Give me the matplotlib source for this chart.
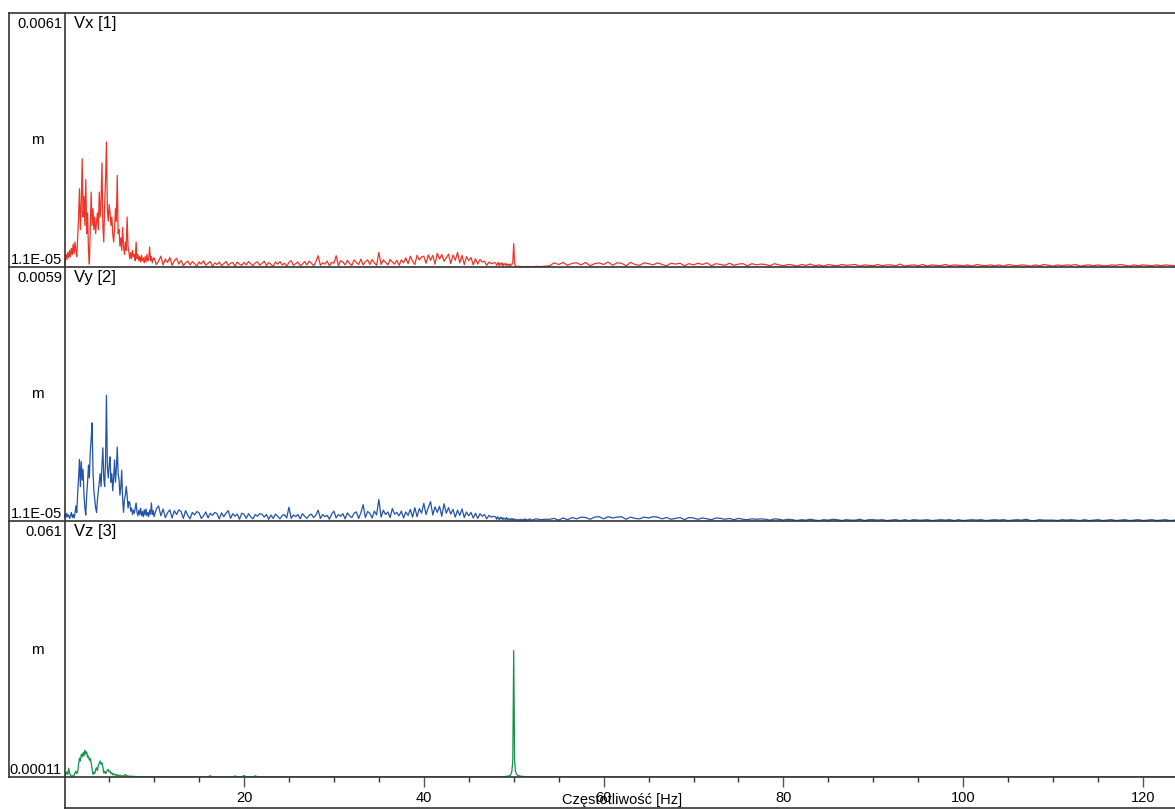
import numpy as np
import matplotlib.pyplot as plt
from matplotlib.lines import Line2D

plt.rcParams['font.family'] = ['Liberation Sans', 'DejaVu Sans']

# czestotliwosci [Hz] - siatka w czterech odcinkach
f_low = np.arange(0, 100) / 10.0      # 0 - 9.9 Hz co 0.1
f_mid = np.arange(40, 192) / 4.0      # 10 - 47.75 Hz co 0.25
f_peak = np.arange(480, 520) / 10.0   # 48 - 51.9 Hz co 0.1
f_high = np.arange(104, 248) / 2.0    # 52 - 123.5 Hz co 0.5

# amplitudy w jednostkach 1e-4 m
vx_low = [0.5, 1.5, 3.0, 1.8, 3.5, 2.2, 4.0, 2.5, 4.5, 3.0,
          5.5, 3.2, 6.0, 4.0, 2.5, 7.0, 12.0, 18.8, 9.0, 15.0,
          26.0, 12.0, 17.0, 10.0, 21.0, 8.0, 13.0, 4.0, 0.7, 9.0,
          18.0, 10.0, 14.0, 9.0, 12.0, 8.0, 11.0, 13.0, 9.0, 18.0,
          12.0, 16.0, 25.0, 10.0, 6.0, 15.0, 21.0, 30.0, 14.0, 11.0,
          15.0, 13.0, 10.0, 12.0, 8.0, 6.0, 9.0, 14.0, 11.0, 22.0,
          8.0, 9.0, 5.0, 7.0, 4.0, 9.5, 5.0, 3.0, 6.0, 4.0,
          12.0, 5.0, 3.5, 2.0, 3.5, 2.0, 4.0, 2.5, 3.0, 1.5,
          6.0, 2.0, 3.0, 1.5, 2.5, 1.2, 2.8, 1.5, 2.2, 1.0,
          2.5, 1.2, 3.0, 1.5, 2.0, 4.8, 1.5, 2.5, 1.0, 2.0]
vx_mid = [2.2, 0.6, 1.4, 2.6, 0.5, 1.9, 1.1, 2.3,
          0.4, 1.5, 2.1, 0.7, 1.6, 0.3, 1.0, 1.4,
          0.5, 1.3, 0.8, 0.2, 1.2, 0.7, 1.5, 0.4,
          0.9, 1.3, 0.2, 1.0, 0.6, 1.2, 0.3, 0.8,
          1.3, 0.4, 0.9, 1.1, 0.2, 1.2, 0.7, 0.4,
          1.1, 0.5, 1.3, 0.8, 0.3, 1.0, 1.2, 0.4,
          0.9, 1.4, 0.3, 1.1, 0.6, 0.2, 1.2, 0.7,
          1.3, 0.5, 0.9, 0.2, 1.1, 1.5, 0.4, 0.8,
          1.2, 0.3, 0.7, 1.3, 0.5, 1.4, 0.9, 0.3,
          1.3, 2.7, 0.4, 1.0, 0.7, 1.4, 0.3, 1.1,
          0.9, 2.7, 0.3, 1.5, 1.2, 0.5, 1.6, 0.8,
          0.4, 1.7, 1.1, 0.6, 1.9, 0.5, 1.3, 1.7,
          0.6, 1.8, 1.0, 0.4, 3.5, 0.6, 1.7, 1.1,
          0.5, 1.8, 1.2, 0.7, 1.6, 0.4, 1.7, 1.0,
          2.2, 0.8, 2.6, 1.4, 0.6, 2.8, 1.7, 2.4,
          2.6, 0.9, 2.9, 1.6, 2.8, 0.7, 3.3, 1.9,
          3.0, 1.4, 2.2, 3.1, 0.8, 2.9, 1.6, 3.5,
          1.0, 2.8, 0.6, 2.5, 1.5, 2.3, 0.5, 2.0,
          0.7, 1.8, 1.2, 1.4, 0.4, 1.2, 0.8, 1.0]
vx_peak = [1.0, 0.4, 0.7, 1.1, 0.3, 0.9, 0.6, 1.0, 0.2, 0.8,
           0.5, 0.9, 0.3, 0.7, 0.6, 0.2, 0.7, 0.4, 0.6, 1.2,
           5.6, 1.0, 0.2, 0.1, 0.2, 0.05, 0.2, 0.05, 0.15, 0.05,
           0.1, 0.05, 0.1, 0.05, 0.15, 0.05, 0.1, 0.05, 0.1, 0.05]
vx_high = [0.05, 0.15, 0.1, 0.2, 0.3, 1.0, 0.6, 1.1,
           0.4, 0.9, 1.0, 0.5, 1.1, 0.3, 0.8, 1.0,
           0.6, 1.2, 0.4, 1.0, 0.9, 0.3, 1.1, 0.6,
           0.4, 1.0, 0.8, 0.5, 1.0, 0.6, 0.3, 0.9,
           0.7, 0.9, 0.3, 0.8, 0.5, 0.9, 0.6, 1.0,
           0.3, 0.8, 0.6, 0.4, 0.9, 0.4, 0.7, 0.8,
           0.3, 0.8, 0.5, 0.7, 0.6, 0.3, 0.8, 0.5,
           0.3, 0.6, 0.5, 0.2, 0.6, 0.4, 0.7, 0.3,
           0.5, 0.2, 0.6, 0.4, 0.3, 0.6, 0.4, 0.5,
           0.6, 0.2, 0.5, 0.4, 0.3, 0.6, 0.3, 0.5,
           0.5, 0.3, 0.7, 0.2, 0.4, 0.5, 0.3, 0.6,
           0.2, 0.5, 0.4, 0.3, 0.6, 0.3, 0.5, 0.4,
           0.3, 0.5, 0.2, 0.6, 0.4, 0.3, 0.5, 0.3,
           0.5, 0.2, 0.6, 0.4, 0.3, 0.5, 0.4, 0.2,
           0.5, 0.3, 0.6, 0.4, 0.2, 0.5, 0.3, 0.5,
           0.4, 0.6, 0.2, 0.4, 0.5, 0.3, 0.5, 0.3,
           0.3, 0.5, 0.4, 0.6, 0.4, 0.2, 0.5, 0.3,
           0.5, 0.4, 0.3, 0.5, 0.3, 0.5, 0.4, 0.3]

vy_low = [1.0, 1.6, 0.8, 1.8, 1.0, 1.4, 0.6, 1.2, 2.0, 0.8,
          1.5, 0.7, 1.8, 3.5, 2.0, 6.5, 10.0, 14.3, 8.0, 13.8,
          9.5, 12.0, 6.0, 3.0, 1.4, 6.0, 9.0, 13.0, 10.0, 16.0,
          19.0, 22.8, 12.0, 7.0, 5.0, 3.0, 2.0, 5.0, 7.0, 9.0,
          11.0, 8.0, 13.0, 17.0, 10.0, 8.0, 14.0, 29.2, 12.6, 10.0,
          13.0, 14.9, 9.0, 11.0, 7.0, 10.0, 14.2, 9.0, 12.0, 17.2,
          11.0, 9.5, 6.0, 8.0, 11.8, 5.0, 2.0, 5.0, 6.0, 8.0,
          6.0, 3.0, 4.5, 4.2, 2.3, 3.0, 1.5, 2.5, 1.8, 3.0,
          4.2, 2.0, 1.2, 2.5, 1.5, 3.0, 1.2, 2.2, 1.0, 2.6,
          1.4, 2.8, 1.2, 2.0, 1.0, 2.5, 1.6, 4.2, 1.5, 2.4]
vy_mid = [1.0, 2.8, 3.5, 1.2, 2.8, 0.8, 1.9, 2.6,
          0.7, 2.4, 1.5, 2.6, 2.2, 0.6, 2.4, 1.3,
          0.5, 2.0, 1.4, 2.2, 1.9, 0.6, 1.2, 2.1,
          0.7, 1.8, 1.3, 2.0, 1.7, 0.5, 1.9, 1.0,
          1.8, 2.4, 0.6, 1.7, 1.1, 1.6, 0.4, 1.8,
          1.6, 0.6, 1.7, 1.0, 0.5, 1.5, 1.1, 1.7,
          1.6, 0.9, 1.5, 0.4, 1.4, 0.6, 1.6, 1.1,
          0.5, 1.3, 1.5, 0.7, 3.2, 0.6, 1.4, 1.0,
          1.5, 0.5, 1.7, 1.1, 0.6, 1.3, 1.6, 0.8,
          1.4, 2.5, 0.6, 1.5, 1.0, 1.3, 0.4, 1.6,
          2.3, 0.7, 1.5, 1.1, 1.7, 0.5, 1.9, 1.2,
          0.8, 1.8, 2.1, 0.6, 1.9, 3.8, 0.8, 2.2,
          1.8, 0.7, 2.3, 1.4, 5.0, 0.9, 2.5, 1.5,
          2.1, 0.8, 2.9, 1.6, 2.0, 1.2, 2.3, 0.7,
          2.1, 1.3, 2.7, 0.9, 3.1, 1.0, 2.9, 1.8,
          4.1, 1.5, 3.1, 4.5, 1.4, 3.3, 2.0, 3.4,
          1.1, 4.0, 1.8, 3.1, 1.6, 2.7, 0.9, 2.5,
          1.3, 2.8, 0.8, 2.1, 1.2, 2.0, 0.7, 1.8,
          0.6, 1.7, 1.1, 1.5, 0.5, 1.3, 0.9, 1.1]
vy_peak = [0.9, 0.4, 1.0, 0.6, 0.3, 0.9, 0.5, 0.8, 0.3, 0.7,
           0.6, 0.2, 0.8, 0.4, 0.6, 0.3, 0.5, 0.2, 0.6, 0.3,
           0.5, 0.2, 0.4, 0.3, 0.1, 0.4, 0.2, 0.3, 0.4, 0.1,
           0.3, 0.4, 0.2, 0.5, 0.3, 0.1, 0.4, 0.2, 0.5, 0.3]
vy_high = [0.2, 0.5, 0.3, 0.4, 0.4, 0.6, 0.2, 0.7,
           0.3, 0.8, 0.5, 0.9, 0.8, 0.4, 0.9, 1.0,
           0.5, 1.0, 0.7, 0.9, 1.0, 0.4, 0.9, 0.6,
           0.5, 0.9, 0.7, 1.0, 0.9, 0.5, 0.8, 0.4,
           0.6, 0.8, 0.3, 0.8, 0.7, 0.4, 0.7, 0.5,
           0.3, 0.7, 0.6, 0.4, 0.6, 0.3, 0.6, 0.4,
           0.3, 0.5, 0.4, 0.5, 0.4, 0.2, 0.5, 0.4,
           0.2, 0.4, 0.3, 0.1, 0.3, 0.2, 0.4, 0.2,
           0.1, 0.3, 0.2, 0.4, 0.3, 0.1, 0.3, 0.2,
           0.2, 0.4, 0.1, 0.3, 0.3, 0.2, 0.3, 0.1,
           0.2, 0.3, 0.1, 0.3, 0.1, 0.3, 0.2, 0.2,
           0.3, 0.1, 0.2, 0.3, 0.2, 0.3, 0.1, 0.3,
           0.1, 0.2, 0.3, 0.2, 0.3, 0.1, 0.2, 0.3,
           0.2, 0.3, 0.1, 0.2, 0.3, 0.2, 0.4, 0.1,
           0.1, 0.3, 0.2, 0.2, 0.2, 0.1, 0.3, 0.2,
           0.3, 0.2, 0.1, 0.3, 0.1, 0.2, 0.3, 0.1,
           0.2, 0.3, 0.1, 0.2, 0.3, 0.1, 0.2, 0.3,
           0.1, 0.2, 0.3, 0.1, 0.2, 0.3, 0.1, 0.2]

vz_low = [1, 3, 8, 12, 6, 21, 10, 4, 2, 3,
          1, 5, 10, 14, 8, 12, 30, 45, 38, 54,
          48, 58, 50, 64, 55, 60, 47, 50, 40, 44,
          34, 20, 6, 12, 8, 18, 22, 15, 28, 33,
          38, 30, 34, 24, 10, 14, 8, 12, 16, 18,
          12, 14, 8, 10, 5, 8, 6, 4, 6, 3,
          5, 3, 4, 2, 3, 2, 3, 4, 6, 4,
          3, 2, 2, 1.5, 2, 1.5, 2, 1, 1.5, 1,
          1, 0.8, 1, 0.6, 0.8, 0.5, 0.6, 0.4, 0.5, 0.3,
          0.4, 0.3, 0.5, 0.3, 0.4, 0.3, 0.4, 0.2, 0.3, 0.2]
vz_mid = [0.4, 0.3, 0.5, 0.3, 0.4, 0.3, 0.4, 0.2,
          0.3, 0.4, 0.2, 0.3, 0.3, 0.2, 0.4, 0.2,
          0.3, 0.2, 0.3, 0.2, 0.3, 0.2, 0.3, 0.2,
          0.4, 3.0, 0.3, 0.2, 0.3, 0.2, 0.3, 0.2,
          0.3, 0.2, 0.3, 0.2, 2.5, 0.3, 0.2, 0.3,
          3.5, 0.3, 0.2, 0.3, 0.2, 2.8, 0.3, 0.2,
          0.3, 0.2, 0.3, 0.2, 0.3, 0.2, 0.3, 0.2,
          0.2, 0.3, 0.2, 0.3, 0.3, 0.2, 0.3, 0.2,
          0.2, 0.3, 0.2, 0.3, 0.3, 0.2, 0.3, 0.2,
          0.2, 0.3, 0.2, 0.3, 0.3, 0.2, 0.3, 0.2,
          0.2, 0.3, 0.2, 0.3, 0.3, 0.2, 0.3, 0.2,
          0.2, 0.3, 0.2, 0.3, 0.3, 0.2, 0.3, 0.2,
          0.2, 0.3, 0.2, 0.3, 0.3, 0.2, 0.3, 0.2,
          0.2, 0.3, 0.2, 0.3, 0.3, 0.2, 0.3, 0.2,
          0.2, 0.3, 0.2, 0.3, 0.3, 0.2, 0.3, 0.2,
          0.2, 0.3, 0.2, 0.3, 0.3, 0.2, 0.3, 0.2,
          0.2, 0.3, 0.2, 0.3, 0.3, 0.2, 0.3, 0.2,
          0.2, 0.3, 0.2, 0.3, 0.3, 0.2, 0.3, 0.2,
          0.2, 0.3, 0.2, 0.3, 0.3, 0.2, 0.3, 0.2]
vz_peak = [0.3, 0.3, 0.4, 0.4, 0.5, 0.5, 0.6, 0.7, 0.8, 1.0,
           1.2, 1.4, 1.6, 1.9, 2.3, 2.8, 3.6, 7, 14, 40,
           301, 40, 14, 7, 4.5, 3.5, 2.8, 2.3, 1.9, 1.6,
           1.4, 1.2, 1.0, 0.9, 0.8, 0.7, 0.6, 0.5, 0.5, 0.4]
vz_high = [0.3, 0.2, 0.3, 0.2] * 36

freq = np.concatenate([f_low, f_mid, f_peak, f_high])
vx = np.concatenate([vx_low, vx_mid, vx_peak, vx_high]) * 1e-4
vy = np.concatenate([vy_low, vy_mid, vy_peak, vy_high]) * 1e-4
vz = np.concatenate([vz_low, vz_mid, vz_peak, vz_high]) * 1e-4

names = ['Vx [1]', 'Vy [2]', 'Vz [3]']
tops = ['0.0061', '0.0059', '0.061']
bottoms = ['1.1E-05', '1.1E-05', '0.00011']
colors = ['#ee3427', '#2254a6', '#149048']

W, H = 1175, 809
fig = plt.figure(figsize=(W / 100, H / 100), dpi=100)
fc = '#333333'


def fx(x):
    return x / W


def fy(y):
    return 1 - y / H


def hline(y, x0, x1):
    fig.add_artist(Line2D([fx(x0), fx(x1)], [fy(y), fy(y)], transform=fig.transFigure,
                          color=fc, lw=1.2, zorder=5))


def vline(x, y0, y1):
    fig.add_artist(Line2D([fx(x), fx(x)], [fy(y0), fy(y1)], transform=fig.transFigure,
                          color=fc, lw=1.2, zorder=5))


x0_px = 64.2
xmax = (W - x0_px) / 8.99
edges = [13, 267, 521, 777]

for i, (data, name, top, bot, col) in enumerate(zip([vx, vy, vz], names, tops, bottoms, colors)):
    ytop, ybot = edges[i], edges[i + 1]
    ax = fig.add_axes([fx(x0_px), fy(ybot), 1 - fx(x0_px), (ybot - ytop) / H])
    ax.plot(freq, data, color=col, lw=0.9)
    ax.set_xlim(0, xmax)
    ax.set_ylim(0, float(top))
    for s in ax.spines.values():
        s.set_visible(False)
    ax.set_yticks([])
    if i < 2:
        ax.set_xticks([])
    else:
        ax.set_xticks([20, 40, 60, 80, 100, 120])
        ax.set_xticks([v for v in range(5, 124, 5) if v % 20 != 0], minor=True)
        ax.tick_params(axis='x', which='major', length=7, width=1, color='#555555',
                       labelsize=10.5, pad=3)
        ax.tick_params(axis='x', which='minor', length=3.5, width=1, color=fc)
    fig.text(fx(62), fy(ytop + 14.5), top, ha='right', va='baseline', fontsize=10.5)
    fig.text(fx(62), fy(ybot - 3.5), bot, ha='right', va='baseline', fontsize=10.5)
    fig.text(fx(37.5), fy((ytop + ybot) / 2 + 4.5), 'm', ha='center', va='baseline', fontsize=11)
    fig.text(fx(74), fy(ytop + 15), name, ha='left', va='baseline', fontsize=12)

# ramki
for y in edges:
    hline(y, 9, W)
hline(808, 65, W)
vline(9, 13, 777)
vline(65, 13, 808)

fig.text(fx(622), fy(804), 'Częstotliwość [Hz]', ha='center', va='baseline', fontsize=10.5)

fig.savefig('out.png', dpi=100, facecolor='white')
